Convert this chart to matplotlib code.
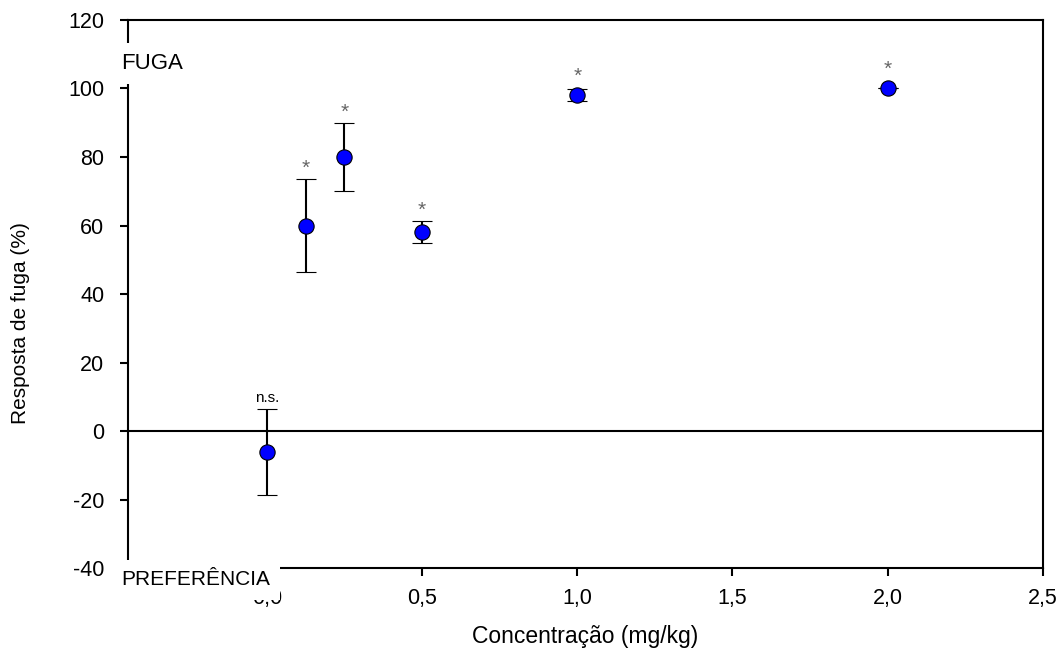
import matplotlib
matplotlib.use("Agg")
import matplotlib.pyplot as plt

# data
conc = [0.0, 0.125, 0.25, 0.5, 1.0, 2.0]
resp = [-6.2, 60.0, 80.0, 58.0, 98.0, 100.0]
err = [12.5, 13.5, 10.0, 3.2, 1.8, 0.0]
signif = ["n.s.", "*", "*", "*", "*", "*"]

xticks = [0.0, 0.5, 1.0, 1.5, 2.0, 2.5]
xticklabels = ["0,0", "0,5", "1,0", "1,5", "2,0", "2,5"]
yticks = [-40, -20, 0, 20, 40, 60, 80, 100, 120]
yticklabels = ["-40", "-20", "0", "20", "40", "60", "80", "100", "120"]

plt.rcParams['font.family'] = ['Liberation Sans', 'DejaVu Sans']

fig = plt.figure(figsize=(10.62, 6.59), dpi=100)
ax = fig.add_axes([0.1205, 0.138, 0.8615, 0.8317])

ax.axhline(0, color='black', lw=1.5, zorder=1)
ax.errorbar(conc, resp, yerr=err, fmt='o', color='black', ecolor='black',
            elinewidth=1.5, capsize=7, capthick=1.5, markersize=11,
            markerfacecolor='#0000ff', markeredgecolor='black',
            markeredgewidth=0.8, zorder=3)

for x, y, e, s in zip(conc, resp, err, signif):
    top = y + max(e, 2.5)
    if s == 'n.s.':
        ax.annotate(s, (x, top), xytext=(0, 3), textcoords='offset points',
                    ha='center', va='bottom', fontsize=11, color='black')
    else:
        ax.annotate(s, (x, top), xytext=(0, 1), textcoords='offset points',
                    ha='center', va='bottom', fontsize=15, color='#666666')

ax.set_xlim(-0.447, 2.5)
ax.set_ylim(-40, 120)
ax.set_xticks(xticks)
ax.set_xticklabels(xticklabels)
ax.set_yticks(yticks)
ax.set_yticklabels(yticklabels)
ax.tick_params(direction='out', length=6, width=1.5, labelsize=15.5, pad=8)
ax.tick_params(axis='y', pad=11)
for sp in ax.spines.values():
    sp.set_linewidth(1.5)

ax.set_xlabel("Concentração (mg/kg)", fontsize=16.5, va='center')
ax.xaxis.set_label_coords(0.5, -0.124)
ax.set_ylabel("Resposta de fuga (%)", fontsize=15, va='center')
ax.yaxis.set_label_coords(-0.118, 0.447)

box = dict(boxstyle='square,pad=0.45', facecolor='white', edgecolor='none')
ax.text(-0.47, 107.2, "FUGA", fontsize=16, ha='left', va='center',
        bbox=box, clip_on=False, zorder=5)
ax.text(-0.47, -43.4, "PREFERÊNCIA", fontsize=15, ha='left', va='center',
        bbox=dict(boxstyle='square,pad=0.5', facecolor='white', edgecolor='none'),
        clip_on=False, zorder=5)

fig.savefig("out.png", dpi=100)
